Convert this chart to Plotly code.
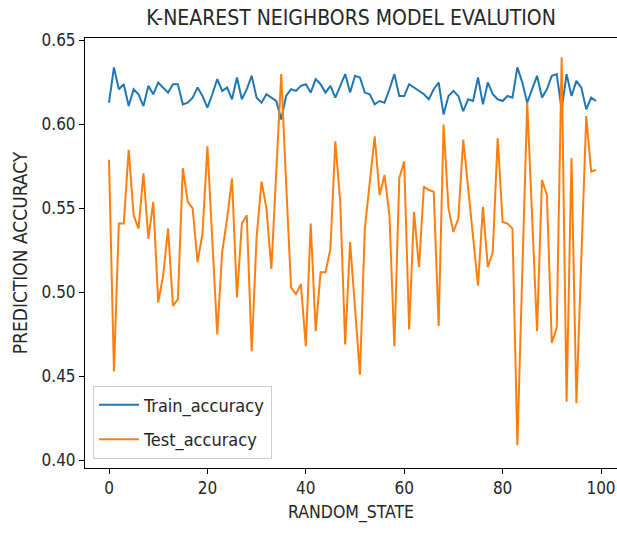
import plotly.graph_objects as go

random_state = list(range(100))

train_accuracy = [
    0.613, 0.634, 0.621, 0.624, 0.611, 0.621, 0.618, 0.611, 0.623, 0.618,
    0.625, 0.622, 0.619, 0.624, 0.624, 0.612, 0.613, 0.616, 0.622, 0.617,
    0.610, 0.618, 0.627, 0.620, 0.622, 0.615, 0.628, 0.615, 0.621, 0.629,
    0.616, 0.613, 0.618, 0.616, 0.614, 0.603, 0.617, 0.621, 0.620, 0.623,
    0.624, 0.619, 0.627, 0.624, 0.619, 0.623, 0.616, 0.623, 0.630, 0.619,
    0.629, 0.628, 0.619, 0.618, 0.612, 0.614, 0.613, 0.621, 0.630, 0.617,
    0.617, 0.624, 0.622, 0.620, 0.618, 0.615, 0.621, 0.625, 0.606, 0.617,
    0.620, 0.617, 0.608, 0.615, 0.614, 0.628, 0.612, 0.625, 0.618, 0.615,
    0.614, 0.617, 0.616, 0.634, 0.625, 0.613, 0.621, 0.629, 0.616, 0.621,
    0.629, 0.630, 0.609, 0.630, 0.617, 0.626, 0.622, 0.609, 0.616, 0.614,
]

test_accuracy = [
    0.579, 0.453, 0.541, 0.541, 0.585, 0.546, 0.538, 0.571, 0.532, 0.554,
    0.494, 0.510, 0.538, 0.492, 0.496, 0.574, 0.554, 0.550, 0.518, 0.535,
    0.587, 0.531, 0.475, 0.524, 0.544, 0.568, 0.497, 0.541, 0.546, 0.465,
    0.533, 0.566, 0.550, 0.514, 0.575, 0.630, 0.565, 0.503, 0.499, 0.505,
    0.468, 0.541, 0.477, 0.512, 0.512, 0.526, 0.590, 0.554, 0.469, 0.530,
    0.491, 0.451, 0.538, 0.566, 0.593, 0.558, 0.570, 0.546, 0.468, 0.568,
    0.578, 0.478, 0.548, 0.515, 0.563, 0.561, 0.560, 0.480, 0.600, 0.550,
    0.536, 0.544, 0.591, 0.562, 0.533, 0.504, 0.551, 0.515, 0.524, 0.592,
    0.542, 0.541, 0.538, 0.409, 0.512, 0.613, 0.545, 0.477, 0.567, 0.558,
    0.470, 0.479, 0.640, 0.435, 0.580, 0.434, 0.520, 0.605, 0.572, 0.573,
]

x_ticks = [0, 20, 40, 60, 80, 100]
y_ticks = [0.40, 0.45, 0.50, 0.55, 0.60, 0.65]

FONT = "DejaVu Sans Condensed, Liberation Sans Narrow, DejaVu Sans, sans-serif"

fig = go.Figure()
fig.add_trace(go.Scatter(x=random_state, y=train_accuracy, mode="lines",
                         name="Train_accuracy", legendgroup="train",
                         line=dict(color="#1f77b4", width=2)))
fig.add_trace(go.Scatter(x=random_state, y=test_accuracy, mode="lines",
                         name="Test_accuracy", legendgroup="test",
                         line=dict(color="#ff7f0e", width=2)))

fig.update_layout(
    width=617, height=534,
    margin=dict(l=85, r=0, t=38, b=66),
    paper_bgcolor="white", plot_bgcolor="white",
    font=dict(family=FONT, color="#262626", size=17),
    title=dict(text="K-NEAREST NEIGHBORS MODEL EVALUTION",
               x=0.5, xanchor="center", xref="paper",
               y=1 - 18 / 534, yref="container", yanchor="middle",
               font=dict(size=21, family=FONT, color="#262626")),
    showlegend=True,
    legend=dict(x=0.015, y=0.022, xanchor="left", yanchor="bottom",
                bgcolor="rgba(255,255,255,0.9)", bordercolor="#cccccc",
                borderwidth=1, font=dict(size=18, family=FONT),
                traceorder="grouped", tracegroupgap=8, itemwidth=40),
)

fig.update_xaxes(range=[-4.88, 103.25], tickvals=x_ticks,
                 showline=True, linecolor="black", linewidth=1, mirror=True,
                 ticks="outside", ticklen=5, tickcolor="black",
                 showgrid=False, zeroline=False,
                 tickfont=dict(size=17),
                 title=dict(text="RANDOM_STATE", standoff=8, font=dict(size=17.5)))
fig.update_yaxes(range=[0.3955, 0.6515], tickvals=y_ticks, tickformat=".2f",
                 showline=True, linecolor="black", linewidth=1, mirror=False,
                 ticks="outside", ticklen=5, tickcolor="black",
                 showgrid=False, zeroline=False,
                 tickfont=dict(size=17),
                 title=dict(text="PREDICTION ACCURACY", standoff=8, font=dict(size=19)))

fig.write_html("out.html")
